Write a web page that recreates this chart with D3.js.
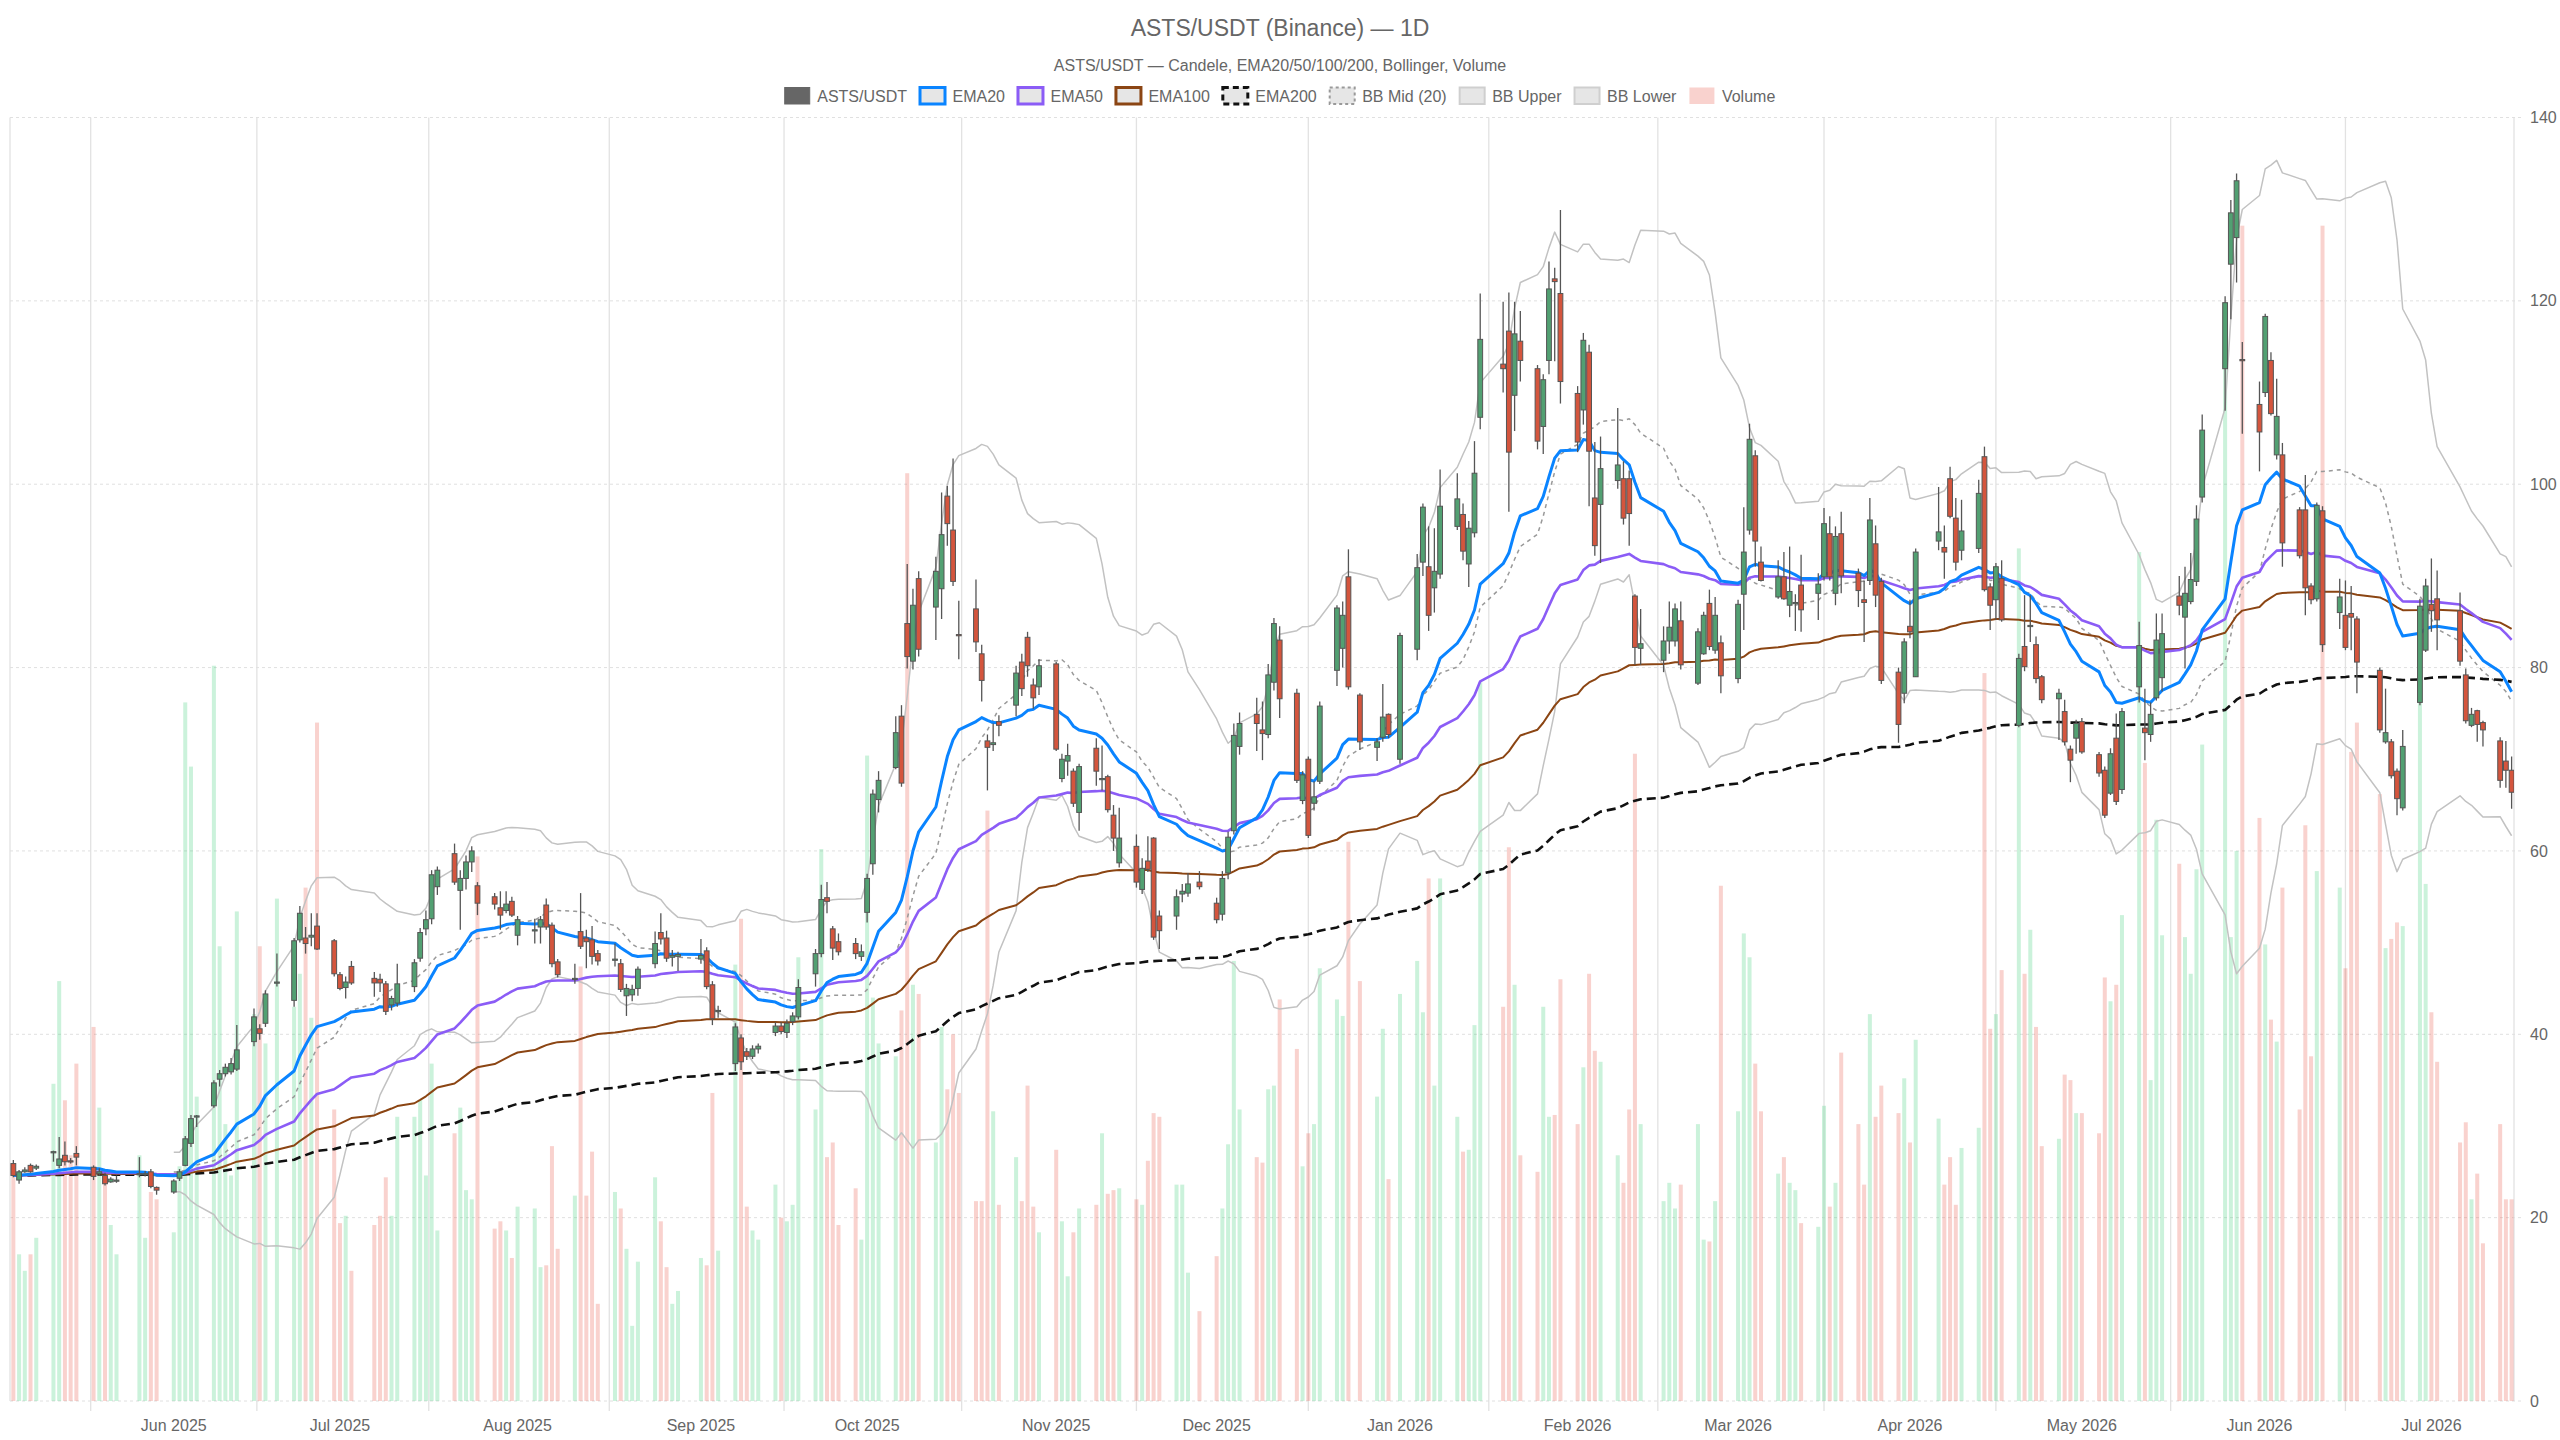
<!DOCTYPE html>
<html lang="en">
<head>
<meta charset="utf-8">
<title>ASTS/USDT (Binance) — 1D</title>
<script src="https://cdn.jsdelivr.net/npm/d3@7"></script>
<style>
  body { margin: 0; background: #fff; }
  svg { display: block; font-family: "Liberation Sans", Arial, Helvetica, sans-serif; }
</style>
</head>
<body>
<div id="chart"></div>
<script>
// trading calendar: weekdays from first to last session, minus exchange holidays
const firstSession = new Date(2025, 4, 5);
const lastSession = new Date(2026, 6, 15);
const holidays = ["2025-05-26", "2025-06-19", "2025-07-04", "2025-09-01", "2025-11-27", "2025-12-25",
  "2026-01-01", "2026-01-19", "2026-02-16", "2026-04-03", "2026-05-25", "2026-06-19", "2026-07-03"];

// daily OHLC, one line per week
const opens = [
  25.9, 24.1, 25.0, 25.7, 25.4,  27.1, 25.7, 26.8, 26.2, 27.0,  25.5, 24.8, 24.6, 23.9, 24.1,
  24.8, 24.7, 25.0, 23.3,  22.8, 24.3, 25.7, 28.1, 31.0,  32.2, 35.1, 35.7, 35.9, 36.2,
  39.2, 40.6, 41.2, 45.6,  43.7, 50.3, 50.5, 50.6, 51.8,  50.2, 46.5, 45.1, 47.4,
  46.1, 46.0, 45.5, 43.2, 43.4,  45.2, 48.3, 51.5, 52.6, 56.1,  59.7, 55.7, 57.0, 58.8, 56.2,
  55.0, 53.8, 53.5, 54.5, 50.8,  51.3, 51.7, 54.1, 51.9, 47.9,  46.0, 51.2, 50.5, 50.3, 48.8,
  48.1, 47.7, 44.2, 44.3, 45.0,  47.7, 51.1, 50.5, 48.4, 48.5,  48.2, 49.1, 45.4, 42.5,
  36.8, 39.6, 38.1, 37.6, 38.4,  40.2, 40.9, 40.2, 41.4, 41.9,  46.6, 48.8, 54.9, 51.5, 50.1,
  49.9, 48.5, 53.3, 58.6, 65.6,  69.1, 74.7, 84.8, 80.7, 89.7,  86.6, 88.6, 98.7, 95.0, 83.6,
  86.4, 81.5, 72.0, 71.6, 74.1,  75.9, 80.6, 83.3, 78.1, 77.9,  80.4, 67.9, 69.8, 68.7, 64.2,
  71.2, 67.8, 68.1, 63.9, 58.7,  60.5, 55.8, 58.9, 61.4, 52.9,  52.9, 55.3, 55.4, 56.6,
  54.3, 53.1, 57.6, 62.2, 71.4,  74.9, 73.2, 72.7, 78.4, 83.0,  77.2, 65.5, 70.0, 65.2, 67.6,
  79.7, 82.1, 89.9, 77.0,  71.3, 72.4, 74.9, 70.0,  82.0, 91.5, 91.0, 88.7, 90.2,
  95.4, 96.7, 91.3, 94.7, 107.3,  113.1, 116.7, 109.7, 115.6,  112.6, 106.3, 113.5, 122.4, 120.8,
  109.9, 108.1, 114.4, 98.5, 97.8,  100.4, 100.6, 100.6, 87.8, 82.1,  80.8, 82.9, 82.9, 85.1,
  78.3, 81.5, 87.0, 81.9, 82.7,  78.8, 88.0, 95.0, 103.1, 91.5,  87.7, 89.9, 86.8, 87.0, 89.0,
  88.1, 89.9, 94.6, 88.1, 94.6,  90.3, 87.4, 89.5, 93.5, 89.4,  79.5, 77.2, 84.5, 79.0,
  93.8, 93.1, 100.6, 96.3, 92.8,  93.0, 103.0, 88.8, 87.4, 89.7,  73.7, 82.3, 84.5, 82.5, 79.0,
  76.6, 75.2, 71.1, 72.3, 74.1,  70.5, 68.8, 66.3, 72.3, 66.7,  77.9, 73.4, 72.7, 76.7, 78.9,
  87.8, 85.5, 87.2, 89.4, 98.6,  112.6, 124.0, 126.9, 113.6,  108.7, 110.0, 113.5, 103.2, 103.2,
  97.2, 97.2, 88.9, 87.5, 97.1,  86.0, 85.7, 85.9, 85.3,  79.7, 71.9, 71.9, 68.7, 64.7,
  76.2, 81.9, 86.9, 87.5,  86.2, 79.2, 73.7, 75.3, 74.0,  72.0, 69.8, 68.8
];
const highs = [
  26.3, 25.2, 25.5, 25.9, 25.8,  27.3, 28.8, 28.3, 26.5, 27.8,  25.7, 25.4, 24.9, 24.4, 24.6,
  26.6, 25.1, 25.3, 23.4,  24.2, 25.3, 28.9, 31.2, 31.2,  35.0, 36.1, 36.8, 37.4, 41.0,
  42.8, 41.1, 44.8, 48.8,  50.5, 54.0, 51.7, 53.2, 53.2,  50.4, 46.8, 46.3, 48.0,
  46.8, 46.6, 45.8, 44.2, 47.7,  48.2, 51.6, 53.5, 57.9, 58.3,  60.8, 57.9, 59.5, 60.5, 56.6,
  55.4, 55.6, 55.6, 55.0, 52.9,  52.6, 52.9, 54.8, 52.2, 48.2,  47.7, 55.4, 51.4, 51.8, 49.2,
  49.9, 48.2, 45.5, 45.4, 47.4,  51.2, 53.2, 51.3, 49.2, 49.0,  50.4, 49.5, 45.8, 43.1,
  41.2, 40.0, 38.5, 38.8, 39.0,  41.3, 41.3, 41.6, 42.4, 46.0,  49.3, 56.3, 56.6, 51.8, 51.0,
  50.5, 49.8, 57.5, 66.7, 68.7,  74.7, 75.9, 91.3, 88.6, 90.5,  92.1, 99.1, 99.8, 102.8, 87.3,
  89.6, 82.5, 72.7, 73.9, 74.8,  80.2, 81.5, 83.9, 78.8, 80.9,  80.6, 70.6, 71.7, 69.0, 69.5,
  72.3, 71.5, 68.3, 65.0, 64.7,  61.8, 59.2, 61.6, 61.5, 53.5,  55.8, 56.4, 57.6, 57.8,
  54.9, 57.8, 62.1, 73.9, 75.1,  76.7, 76.3, 80.4, 85.4, 84.5,  77.7, 68.7, 70.3, 67.6, 76.3,
  86.8, 87.2, 92.9, 77.2,  72.3, 78.2, 75.0, 83.8,  92.4, 97.9, 95.4, 95.2, 101.6,
  101.2, 97.9, 96.0, 104.7, 120.8,  119.9, 120.9, 119.9, 118.9,  113.0, 112.0, 124.3, 123.6, 129.9,
  110.7, 116.5, 115.2, 104.6, 105.2,  108.3, 102.5, 101.5, 88.0, 86.4,  84.5, 87.2, 87.0, 87.2,
  84.3, 86.1, 88.5, 87.7, 83.5,  87.4, 97.5, 106.6, 103.7, 93.2,  91.7, 92.6, 93.2, 88.0, 92.3,
  90.3, 97.4, 96.5, 95.4, 97.0,  90.8, 89.5, 98.5, 95.5, 89.8,  80.0, 83.2, 87.4, 93.0,
  99.7, 95.5, 101.9, 98.5, 98.3,  100.5, 104.1, 89.2, 91.4, 91.7,  81.5, 87.9, 87.9, 83.4, 79.2,
  77.7, 76.5, 71.5, 74.3, 74.5,  70.8, 69.2, 71.2, 75.0, 75.6,  85.0, 77.7, 76.2, 85.9, 85.9,
  90.0, 91.0, 92.5, 97.7, 107.6,  120.5, 131.0, 133.9, 115.5,  111.2, 118.6, 114.4, 111.5, 104.5,
  97.5, 101.0, 89.2, 98.0, 97.6,  89.7, 89.5, 88.9, 85.6,  80.0, 77.7, 72.2, 69.0, 73.2,
  87.5, 89.7, 91.9, 90.6,  88.2, 79.9, 75.6, 75.4, 74.2,  72.4, 72.0, 70.3
];
const lows = [
  24.4, 23.7, 24.9, 24.9, 25.2,  26.1, 25.4, 25.7, 25.9, 25.7,  24.1, 24.6, 23.5, 23.8, 23.8,
  24.4, 24.5, 23.2, 22.5,  22.6, 24.0, 25.6, 27.7, 29.9,  32.0, 34.3, 35.4, 35.6, 36.0,
  38.7, 39.4, 40.8, 45.2,  43.0, 50.0, 48.8, 49.6, 49.2,  46.3, 44.8, 43.9, 45.4,
  44.1, 44.6, 42.1, 42.6, 43.0,  44.6, 47.9, 50.8, 52.0, 55.2,  56.3, 51.4, 55.8, 57.7, 53.0,
  53.6, 51.4, 53.2, 52.8, 49.7,  49.9, 49.9, 51.4, 47.3, 46.2,  45.5, 49.3, 47.2, 47.6, 47.5,
  47.4, 44.6, 42.0, 43.6, 44.2,  47.2, 49.8, 47.9, 47.4, 46.9,  47.7, 44.9, 41.0, 41.8,
  36.0, 36.1, 37.2, 37.3, 37.9,  39.8, 40.0, 39.6, 41.0, 41.6,  45.2, 48.4, 53.2, 48.1, 48.6,
  48.2, 48.0, 52.2, 57.4, 64.2,  68.9, 67.0, 79.9, 79.8, 81.2,  83.0, 85.3, 93.3, 88.9, 80.9,
  81.7, 76.3, 66.6, 70.9, 72.5,  74.7, 76.9, 79.0, 75.5, 77.0,  70.9, 67.5, 68.2, 64.8, 62.2,
  67.1, 66.6, 64.2, 60.0, 58.2,  56.0, 55.3, 57.7, 50.3, 49.3,  51.4, 54.4, 55.0, 55.8,
  52.1, 52.4, 56.9, 61.8, 70.5,  70.9, 69.9, 72.3, 77.5, 74.5,  67.4, 65.1, 61.4, 64.4, 67.3,
  78.0, 80.0, 77.6, 71.0,  69.8, 71.9, 72.3, 69.5,  80.8, 90.0, 84.0, 86.0, 89.7,
  95.0, 91.7, 88.8, 94.2, 106.0,  110.0, 97.0, 105.8, 111.2,  103.8, 103.3, 112.0, 113.4, 108.8,
  103.5, 106.5, 97.6, 92.2, 91.4,  99.5, 95.6, 93.3, 80.3, 80.3,  79.5, 81.5, 82.3, 79.8,
  78.1, 81.4, 81.9, 81.5, 77.2,  78.3, 84.1, 94.5, 91.0, 89.4,  87.5, 87.4, 85.5, 84.0, 83.9,
  85.2, 89.5, 89.5, 86.8, 88.1,  86.6, 82.8, 89.0, 86.6, 78.2,  71.8, 76.1, 83.2, 79.0,
  92.8, 89.7, 96.3, 90.6, 91.7,  92.5, 88.3, 84.1, 85.2, 85.0,  73.5, 79.6, 82.8, 78.3, 76.1,
  72.1, 71.5, 67.5, 70.6, 70.6,  68.1, 63.6, 66.1, 65.0, 66.2,  76.2, 69.9, 71.9, 76.4, 77.4,
  85.7, 79.9, 86.9, 88.9, 98.0,  108.0, 118.0, 122.0, 105.5,  101.4, 109.5, 107.5, 102.7, 91.0,
  91.9, 85.7, 86.9, 87.2, 81.7,  84.2, 81.9, 81.9, 77.2,  72.9, 71.7, 67.9, 63.9, 64.4,
  75.9, 81.7, 83.9, 81.9,  80.2, 73.9, 73.5, 71.9, 71.4,  66.9, 66.9, 64.6
];
const closes = [
  24.6, 25.0, 25.2, 25.0, 25.6,  27.2, 26.4, 26.1, 26.1, 26.6,  24.5, 25.0, 23.7, 24.2, 24.1,
  24.8, 24.8, 23.4, 23.0,  24.0, 25.0, 28.6, 30.8, 31.1,  34.7, 35.7, 36.4, 36.8, 38.3,
  41.9, 40.1, 44.4, 45.7,  50.2, 53.2, 49.9, 50.8, 49.3,  46.6, 45.0, 45.7, 45.6,
  45.6, 45.6, 42.5, 43.9, 45.5,  47.8, 51.1, 52.5, 57.4, 57.9,  56.6, 57.0, 58.8, 60.0, 54.3,
  54.2, 53.0, 54.2, 53.0, 52.5,  51.4, 52.5, 51.7, 47.7, 46.5,  46.1, 49.6, 50.1, 48.5, 48.0,
  48.2, 44.9, 45.0, 44.9, 47.1,  49.9, 50.4, 48.3, 48.6, 48.7,  48.6, 45.2, 41.7, 42.6,
  40.8, 37.0, 37.6, 38.4, 38.7,  40.9, 40.3, 41.2, 42.0, 45.1,  48.8, 54.7, 54.5, 49.4, 49.0,
  48.8, 49.0, 57.0, 66.2, 67.7,  72.9, 67.4, 81.2, 86.8, 82.0,  90.5, 94.5, 95.7, 89.4, 83.5,
  82.8, 78.6, 71.3, 71.8, 73.7,  79.4, 77.7, 80.2, 76.7, 80.2,  71.1, 70.0, 70.4, 65.2, 69.2,
  68.7, 67.9, 64.5, 61.4, 61.4,  56.6, 58.1, 58.0, 50.6, 51.3,  55.0, 55.6, 56.4, 56.1,
  52.5, 57.0, 61.5, 72.6, 73.9,  73.9, 72.8, 79.2, 84.8, 76.6,  67.7, 68.3, 61.7, 65.9, 75.8,
  86.5, 85.7, 77.9, 71.9,  71.9, 74.6, 72.7, 83.5,  90.9, 97.5, 85.7, 90.5, 97.6,
  98.4, 92.7, 95.2, 101.2, 115.8,  112.6, 103.5, 116.4, 113.5,  104.7, 111.4, 121.3, 122.1, 111.2,
  104.6, 115.7, 103.6, 93.3, 101.7,  102.1, 96.3, 96.8, 82.2, 82.6,  82.9, 84.4, 86.4, 80.3,
  83.9, 85.7, 82.3, 85.7, 79.1,  86.9, 92.6, 104.9, 93.8, 89.5,  89.9, 87.5, 88.3, 87.1, 86.3,
  89.1, 95.7, 89.9, 94.3, 90.0,  88.4, 87.1, 96.1, 87.9, 78.6,  73.8, 82.8, 83.9, 92.6,
  94.8, 92.6, 96.5, 91.5, 94.9,  99.0, 88.5, 86.8, 91.0, 85.2,  81.0, 80.1, 84.6, 78.8, 76.5,
  77.2, 71.9, 69.9, 73.9, 70.8,  68.5, 63.9, 70.6, 65.4, 75.2,  82.4, 72.9, 74.9, 83.0, 83.7,
  86.8, 88.1, 89.6, 96.2, 105.9,  119.8, 129.6, 133.1, 113.5,  105.7, 118.3, 107.7, 107.4, 93.6,
  92.2, 88.7, 87.4, 97.7, 82.5,  87.7, 82.2, 85.5, 80.6,  73.2, 72.9, 68.2, 65.7, 71.4,
  86.7, 88.9, 86.2, 85.2,  80.7, 74.2, 74.9, 73.8, 73.2,  67.7, 68.8, 66.4
];
// daily volume, millions
const volumes = [
  12.3, 8.0, 7.1, 8.0, 8.9,  17.3, 22.9, 16.4, 13.4, 18.4,  20.4, 16.0, 12.3, 9.6, 8.0,
  13.4, 8.9, 11.4, 11.0,  9.2, 12.8, 38.1, 34.6, 16.6,  40.1, 24.8, 15.1, 12.3, 26.7,
  21.1, 24.8, 19.5, 27.4,  21.5, 23.3, 28.0, 20.9, 37.0,  15.9, 9.7, 10.1, 7.1,
  9.6, 10.1, 12.2, 10.1, 15.5,  15.5, 16.4, 12.3, 18.4, 9.3,  14.6, 16.0, 11.5, 11.0, 29.7,
  9.4, 9.8, 9.3, 7.8, 10.6,  10.5, 7.3, 7.4, 13.9, 8.3,  11.2, 23.7, 11.2, 13.6, 5.3,
  11.4, 10.5, 8.3, 4.1, 7.6,  12.2, 9.8, 7.3, 5.3, 6.0,  7.8, 7.4, 16.8, 8.2,
  23.8, 26.3, 10.6, 9.3, 8.8,  11.8, 10.0, 9.8, 10.7, 24.2,  15.9, 30.1, 13.3, 14.1, 9.6,
  11.6, 8.8, 35.2, 22.0, 19.5,  18.8, 21.3, 50.6, 22.7, 22.2,  14.1, 20.4, 17.0, 20.0, 16.8,
  10.9, 10.9, 32.2, 15.8, 10.7,  13.3, 10.9, 17.2, 10.6, 9.2,  13.7, 9.8, 6.8, 9.2, 10.5,
  10.7, 14.6, 11.3, 11.5, 11.6,  11.0, 10.7, 13.1, 15.7, 15.5,  11.8, 11.8, 7.0, 4.9,
  7.9, 10.5, 14.0, 24.0, 15.9,  13.3, 13.0, 17.0, 17.2, 21.9,  19.2, 12.8, 14.6, 15.1, 23.6,
  21.9, 21.0, 30.5, 22.9,  16.6, 20.3, 12.1, 22.2,  24.0, 21.2, 28.5, 17.2, 28.5,
  15.5, 13.6, 13.7, 20.5, 39.2,  21.5, 30.2, 22.7, 13.4,  12.5, 21.5, 15.5, 15.6, 23.0,
  15.1, 18.2, 23.3, 19.1, 18.5,  13.4, 11.9, 15.9, 35.3, 15.1,  10.9, 11.9, 10.5, 11.8,
  15.1, 8.8, 8.7, 10.9, 28.1,  15.8, 25.5, 24.2, 18.4, 15.8,  12.4, 13.3, 11.9, 11.5, 9.7,
  9.5, 16.1, 10.6, 11.9, 19.0,  15.1, 11.8, 21.1, 15.5, 17.2,  15.7, 17.6, 14.1, 19.7,
  15.4, 11.8, 13.3, 10.7, 13.8,  14.9, 39.7, 20.3, 21.1, 23.5,  46.5, 23.3, 25.7, 20.4, 13.9,
  14.3, 17.8, 17.5, 15.7, 15.7,  14.6, 23.1, 21.8, 22.7, 26.5,  46.3, 34.8, 17.5, 31.7, 25.4,
  29.3, 25.3, 23.3, 29.0, 35.8,  56.4, 25.3, 30.0, 64.1,  31.8, 24.9, 20.8, 19.6, 28.0,
  15.9, 31.4, 18.8, 28.9, 64.1,  28.0, 23.6, 35.4, 37.0,  33.1, 24.7, 25.2, 26.1, 25.9,
  42.9, 28.2, 21.2, 18.5,  14.1, 15.2, 11.0, 12.4, 8.6,  15.1, 11.0, 11.0
];
const priceTicks = [0, 20, 40, 60, 80, 100, 120, 140];

const fmtDay = d3.timeFormat("%Y-%m-%d");
const dates = d3.timeDay.range(firstSession, d3.timeDay.offset(lastSession, 1))
  .filter(d => d.getDay() !== 0 && d.getDay() !== 6 && !holidays.includes(fmtDay(d)));
const n = Math.min(dates.length, closes.length);
const idx = d3.range(n);

// indicators
function ema(values, period) {
  const k = 2 / (period + 1);
  const out = [];
  values.forEach((v, i) => out.push(i === 0 ? v : v * k + out[i - 1] * (1 - k)));
  return out;
}
const ema20 = ema(closes, 20), ema50 = ema(closes, 50), ema100 = ema(closes, 100), ema200 = ema(closes, 200);
const bbMid = [], bbUp = [], bbLo = [];
for (let i = 19; i < n; i++) {
  const win = closes.slice(i - 19, i + 1);
  const m = d3.mean(win);
  const sd = Math.sqrt(d3.mean(win, v => (v - m) ** 2));
  bbMid[i] = m; bbUp[i] = m + 2 * sd; bbLo[i] = m - 2 * sd;
}

const W = 2560, H = 1440;
const plot = { left: 10, right: 2514, top: 117.5, bottom: 1401 };

const svg = d3.select("#chart").append("svg").attr("width", W).attr("height", H);
svg.append("rect").attr("width", W).attr("height", H).attr("fill", "#fff");

const x = d3.scaleTime()
  .domain([d3.timeHour.offset(dates[0], -14), d3.timeHour.offset(dates[n - 1], 10)])
  .range([plot.left, plot.right]);
const y = d3.scaleLinear().domain([0, 140]).range([plot.bottom, plot.top]);
const yVol = d3.scaleLinear().domain([0, 70]).range([plot.bottom, plot.top]);

// month ticks sit on the first session of each month
const monthTicks = Array.from(d3.group(dates.slice(0, n), d => +d3.timeMonth(d)).values(), v => v[0])
  .filter(d => d >= new Date(2025, 5, 1));
const tx = monthTicks.map(d => x(d));
const gridX = [tx[0] - (tx[1] - tx[0]) / 2];
for (let i = 1; i < tx.length; i++) gridX.push((tx[i - 1] + tx[i]) / 2);

const grid = svg.append("g");
grid.selectAll("line.v").data(gridX).join("line")
  .attr("x1", d => d).attr("x2", d => d)
  .attr("y1", plot.top).attr("y2", plot.bottom + 10)
  .attr("stroke", "#e2e2e2").attr("stroke-width", 1.3);
grid.selectAll("line.edge").data([plot.left, plot.right]).join("line")
  .attr("x1", d => d).attr("x2", d => d)
  .attr("y1", plot.top).attr("y2", plot.bottom)
  .attr("stroke", "#e2e2e2").attr("stroke-width", 1.3);
grid.selectAll("line.h").data(priceTicks).join("line")
  .attr("x1", plot.left).attr("x2", plot.right + 7)
  .attr("y1", d => y(d)).attr("y2", d => y(d))
  .attr("stroke", "#e0e0e0").attr("stroke-width", 1).attr("stroke-dasharray", "3,3");

// axis labels
svg.append("g").selectAll("text").data(priceTicks).join("text")
  .attr("x", 2530).attr("y", d => y(d)).attr("dy", "0.35em")
  .attr("fill", "#666").attr("font-size", 16).text(d => d);
svg.append("g").selectAll("text").data(monthTicks).join("text")
  .attr("x", d => x(d)).attr("y", 1431).attr("text-anchor", "middle")
  .attr("fill", "#666").attr("font-size", 16).text(d3.timeFormat("%b %Y"));

const up = i => closes[i] >= opens[i];
const clip = svg.append("clipPath").attr("id", "plotclip").append("rect")
  .attr("x", plot.left).attr("y", plot.top)
  .attr("width", plot.right - plot.left).attr("height", plot.bottom - plot.top);
const body = svg.append("g").attr("clip-path", "url(#plotclip)");

// volume
body.append("g").selectAll("rect").data(idx).join("rect")
  .attr("x", i => x(dates[i]) - 2).attr("width", 4)
  .attr("y", i => yVol(volumes[i])).attr("height", i => plot.bottom - yVol(volumes[i]))
  .attr("fill", i => up(i) ? "rgba(46,204,113,0.25)" : "rgba(231,76,60,0.25)");

const bbIdx = idx.filter(i => i >= 19);
function path(values, ids, color, width, dash) {
  body.append("path")
    .datum(ids)
    .attr("fill", "none").attr("stroke", color).attr("stroke-width", width)
    .attr("stroke-dasharray", dash || null).attr("stroke-linejoin", "round")
    .attr("d", d3.line().x(i => x(dates[i])).y(i => y(values[i])));
}
path(bbLo, bbIdx, "#c2c2c2", 1.5);
path(bbUp, bbIdx, "#c2c2c2", 1.5);
path(bbMid, bbIdx, "#999", 1.5, "4,4");
path(ema200, idx, "#111", 2.6, "9,5");
path(ema100, idx, "#8b4513", 2);
path(ema50, idx, "#8b5cf6", 2.6);
path(ema20, idx, "#0a84ff", 3);

// candles
const candles = body.append("g");
candles.selectAll("line").data(idx).join("line")
  .attr("x1", i => x(dates[i])).attr("x2", i => x(dates[i]))
  .attr("y1", i => y(highs[i])).attr("y2", i => y(lows[i]))
  .attr("stroke", "#555").attr("stroke-width", 1.3);
candles.selectAll("rect").data(idx).join("rect")
  .attr("x", i => x(dates[i]) - 2.4).attr("width", 4.8)
  .attr("y", i => y(Math.max(opens[i], closes[i])))
  .attr("height", i => Math.max(1.2, Math.abs(y(opens[i]) - y(closes[i]))))
  .attr("fill", i => up(i) ? "#52a072" : "#d4553d")
  .attr("stroke", "#555").attr("stroke-width", 1);

// title, subtitle
svg.append("text").attr("x", 1280).attr("y", 36).attr("text-anchor", "middle")
  .attr("fill", "#666").attr("font-size", 23).text("ASTS/USDT (Binance) — 1D");
svg.append("text").attr("x", 1280).attr("y", 71).attr("text-anchor", "middle")
  .attr("fill", "#666").attr("font-size", 16).text("ASTS/USDT — Candele, EMA20/50/100/200, Bollinger, Volume");

// legend
const legendItems = [
  { label: "ASTS/USDT", fill: "#666", stroke: "#666", width: 1 },
  { label: "EMA20", fill: "#e6e6e6", stroke: "#0a84ff", width: 3 },
  { label: "EMA50", fill: "#e6e6e6", stroke: "#8b5cf6", width: 3 },
  { label: "EMA100", fill: "#e6e6e6", stroke: "#8b4513", width: 3 },
  { label: "EMA200", fill: "#e6e6e6", stroke: "#111", width: 3, dash: "6,4" },
  { label: "BB Mid (20)", fill: "#e6e6e6", stroke: "#999", width: 2, dash: "3,3" },
  { label: "BB Upper", fill: "#e6e6e6", stroke: "#cfcfcf", width: 2 },
  { label: "BB Lower", fill: "#e6e6e6", stroke: "#cfcfcf", width: 2 },
  { label: "Volume", fill: "rgba(231,76,60,0.25)", stroke: "none", width: 0 }
];
const legend = svg.append("g");
const boxW = 25, boxH = 16.5, gapText = 7.5, gapItem = 13;
let cursor = 0;
const placed = legendItems.map(item => {
  const g = legend.append("g");
  g.append("rect").attr("x", cursor).attr("y", 87.5).attr("width", boxW).attr("height", boxH)
    .attr("fill", item.fill).attr("stroke", item.stroke).attr("stroke-width", item.width)
    .attr("stroke-dasharray", item.dash || null);
  const t = g.append("text").attr("x", cursor + boxW + gapText).attr("y", 101.5)
    .attr("fill", "#666").attr("font-size", 16).text(item.label);
  cursor += boxW + gapText + t.node().getComputedTextLength() + gapItem;
  return g;
});
const legendW = cursor - gapItem;
legend.attr("transform", `translate(${1280 - legendW / 2},0)`);
</script>
</body>
</html>
